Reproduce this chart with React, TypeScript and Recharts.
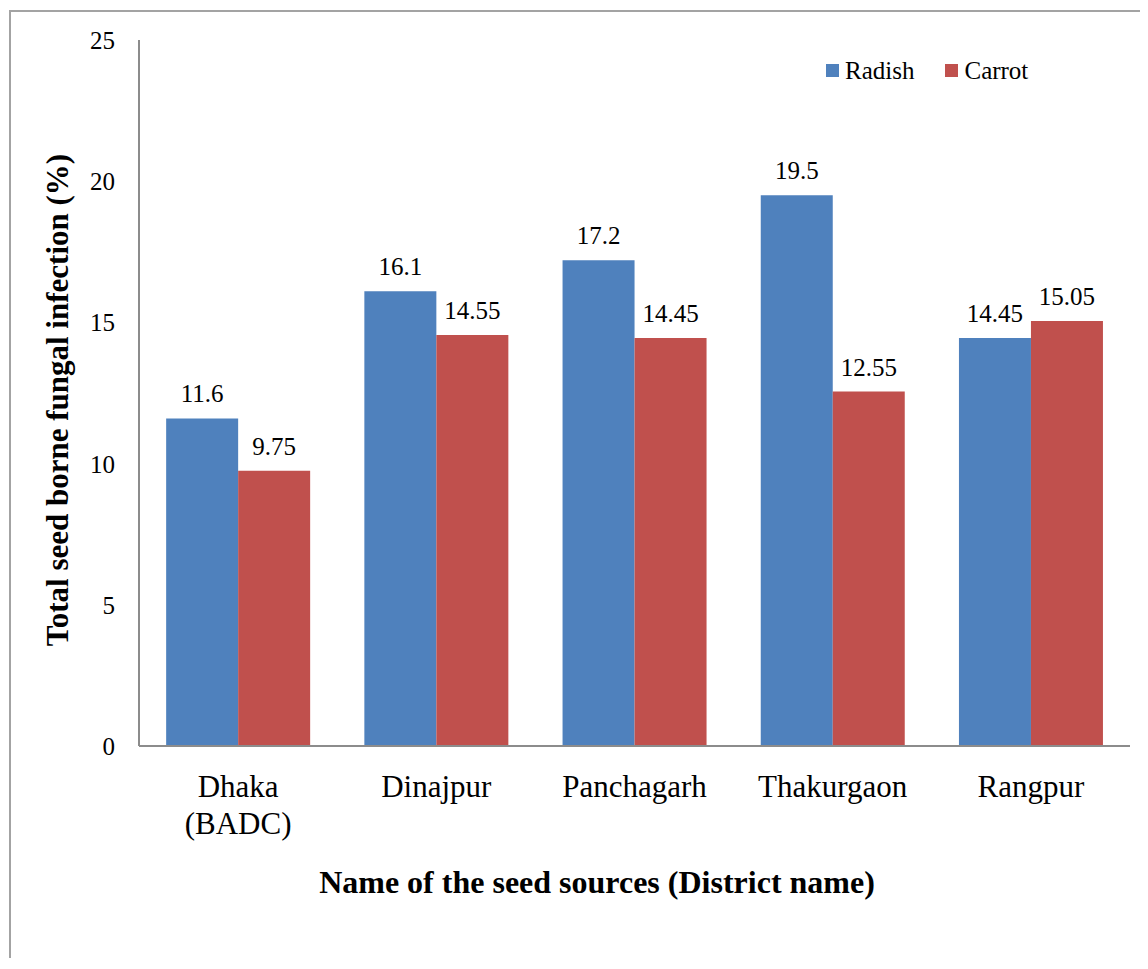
import React from 'react';
import { BarChart, Bar, XAxis, YAxis, Legend, LabelList, Label } from 'recharts';

const districts = ['Dhaka (BADC)', 'Dinajpur', 'Panchagarh', 'Thakurgaon', 'Rangpur'];
const radish = [11.6, 16.1, 17.2, 19.5, 14.45];
const carrot = [9.75, 14.55, 14.45, 12.55, 15.05];
const yTicks = [0, 5, 10, 15, 20, 25];
const seriesOrder = ['Radish', 'Carrot'];

const RADISH = '#4F81BD';
const CARROT = '#C0504D';
const AXIS = '#8c8c8c';
const FONT = 'Liberation Serif, Times New Roman, Times, serif';

const data = districts.map((name, i) => ({ name, radish: radish[i], carrot: carrot[i] }));

// splits "Dhaka (BADC)" onto two lines like the original
function DistrictTick({ x, y, payload }: any) {
  const words = String(payload.value).split(' ');
  return (
    <text x={x} y={y} textAnchor='middle' style={{ fontFamily: FONT }} fontSize={31} fill='#000'>
      {words.map((w, i) => (
        <tspan key={i} x={x} dy={i === 0 ? 51 : 37}>
          {w}
        </tspan>
      ))}
    </text>
  );
}

function ValueTick({ x, y, payload }: any) {
  return (
    <text x={x} y={y} dy={9} textAnchor='end' style={{ fontFamily: FONT }} fontSize={25} fill='#000'>
      {payload.value}
    </text>
  );
}

function BarValue({ x, y, width, value }: any) {
  return (
    <text x={x + width / 2} y={y - 16} textAnchor='middle' style={{ fontFamily: FONT }} fontSize={25} fill='#000'>
      {value}
    </text>
  );
}

function SeriesLegend({ payload }: any) {
  const items = [...(payload || [])].sort(
    (a: any, b: any) => seriesOrder.indexOf(a.value) - seriesOrder.indexOf(b.value)
  );
  return (
    <div style={{ display: 'flex', fontFamily: FONT, fontSize: 25, lineHeight: '25px', color: '#000' }}>
      {items.map((entry: any, i: number) => (
        <div key={i} style={{ display: 'flex', alignItems: 'center', marginRight: i === 0 ? 31 : 0 }}>
          <span style={{ width: 13, height: 13, background: entry.color, marginRight: 6, display: 'inline-block' }} />
          <span style={{ fontFamily: FONT }}>{entry.value}</span>
        </div>
      ))}
    </div>
  );
}

export default function App() {
  return (
    <div
      style={{
        position: 'relative',
        width: 1140,
        height: 950,
        overflow: 'hidden',
        background: '#fff',
        fontFamily: FONT,
      }}
    >
      <div
        style={{
          position: 'absolute',
          left: 1,
          top: 2,
          width: 1300,
          height: 1200,
          border: '2px solid #a3a3a3',
          boxSizing: 'border-box',
        }}
      />
      <BarChart
        width={1140}
        height={950}
        data={data}
        margin={{ top: 32, right: 18, left: 0, bottom: 0 }}
        barCategoryGap='13.7%'
        barGap={0}
        style={{ position: 'absolute', left: 0, top: 0 }}
      >
        <XAxis
          dataKey='name'
          height={212}
          tickLine={false}
          tickSize={0}
          tickMargin={0}
          interval={0}
          axisLine={{ stroke: AXIS, strokeWidth: 2 }}
          tick={<DistrictTick />}
        >
          <Label
            content={({ viewBox }: any) => {
              const cx = viewBox.x + viewBox.width / 2 - 37.5;
              const cy = viewBox.y + 147;
              return (
                <text
                  x={cx}
                  y={cy}
                  textAnchor='middle'
                  style={{ fontFamily: FONT }}
                  fontSize={32}
                  fontWeight='bold'
                  fill='#000'
                >
                  Name of the seed sources (District name)
                </text>
              );
            }}
          />
        </XAxis>
        <YAxis
          width={131}
          domain={[0, 25]}
          ticks={yTicks}
          interval={0}
          tickLine={false}
          tickSize={2}
          tickMargin={22}
          axisLine={{ stroke: AXIS, strokeWidth: 2 }}
          tick={<ValueTick />}
        >
          <Label
            content={({ viewBox }: any) => {
              const cx = viewBox.x + 60;
              const cy = viewBox.y + viewBox.height / 2 + 7;
              return (
                <text
                  x={cx}
                  y={cy}
                  transform={`rotate(-90 ${cx} ${cy})`}
                  textAnchor='middle'
                  style={{ fontFamily: FONT }}
                  fontSize={31}
                  fontWeight='bold'
                  fill='#000'
                >
                  Total seed borne fungal infection (%)
                </text>
              );
            }}
          />
        </YAxis>
        <Legend
          layout='horizontal'
          verticalAlign='middle'
          align='center'
          content={<SeriesLegend />}
          wrapperStyle={{ top: 50, left: 818, width: 'auto', height: 'auto' }}
        />
        <Bar dataKey='radish' name='Radish' fill={RADISH} isAnimationActive={false}>
          <LabelList dataKey='radish' content={<BarValue />} />
        </Bar>
        <Bar dataKey='carrot' name='Carrot' fill={CARROT} isAnimationActive={false}>
          <LabelList dataKey='carrot' content={<BarValue />} />
        </Bar>
      </BarChart>
    </div>
  );
}
